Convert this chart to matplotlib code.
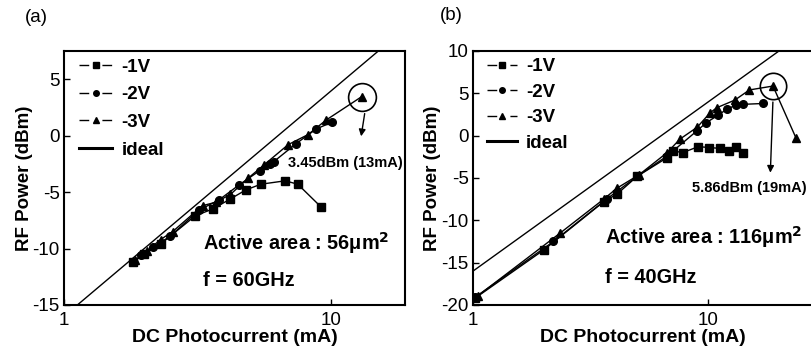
import numpy as np
import matplotlib
matplotlib.use("Agg")
import matplotlib.pyplot as plt
from matplotlib.lines import Line2D

plt.rcParams['font.family'] = ['Liberation Sans', 'DejaVu Sans']
plt.rcParams['axes.unicode_minus'] = False

# ---- panel (a), 56 um^2, 60 GHz ----
a_1v_ma = [1.81, 2.0, 2.3, 3.1, 3.6, 4.2, 4.8, 5.46, 6.73, 7.5, 9.15]
a_1v_dbm = [-11.2, -10.5, -9.6, -7.1, -6.5, -5.6, -4.8, -4.3, -4.0, -4.3, -6.3]
a_2v_ma = [1.95, 2.15, 2.5, 3.2, 3.8, 4.5, 5.4, 5.9, 6.1, 7.4, 8.8, 10.1]
a_2v_dbm = [-10.6, -9.9, -8.9, -6.6, -5.7, -4.4, -3.1, -2.5, -2.3, -0.7, 0.6, 1.2]
a_3v_ma = [1.85, 2.05, 2.3, 2.55, 3.3, 3.7, 4.2, 4.9, 5.6, 6.9, 8.2, 9.6, 13.0]
a_3v_dbm = [-11.0, -10.2, -9.2, -8.5, -6.2, -5.9, -5.2, -3.75, -2.6, -0.8, 0.1, 1.4, 3.45]

# ---- panel (b), 116 um^2, 40 GHz ----
b_1v_ma = [1.02, 2.0, 3.6, 4.1, 5.0, 6.7, 7.1, 7.8, 9.1, 10.1, 11.2, 12.3, 13.2, 14.1]
b_1v_dbm = [-19.2, -13.5, -7.8, -6.9, -4.8, -2.6, -1.8, -2.0, -1.3, -1.4, -1.5, -1.8, -1.3, -2.0]
b_2v_ma = [1.02, 2.2, 3.7, 5.0, 6.7, 9.0, 9.8, 11.0, 12.0, 13.1, 14.1, 17.2]
b_2v_dbm = [-19.1, -12.5, -7.5, -4.8, -2.4, 0.6, 1.5, 2.4, 3.1, 3.6, 3.7, 3.8]
b_3v_ma = [1.05, 2.35, 3.6, 4.1, 5.1, 6.7, 7.6, 9.0, 10.2, 10.9, 13.0, 15.0, 18.9, 23.7]
b_3v_dbm = [-18.9, -11.5, -7.5, -6.2, -4.6, -2.0, -0.4, 1.0, 2.7, 3.3, 4.2, 5.4, 5.86, -0.3]

# ideal: 50 ohm load, 100% modulation
ideal_ma = [1.0, 30.0]
ideal_dbm = [-16.0, 13.5]

legend_labels = ['-1V', '-2V', '-3V', 'ideal']

fig = plt.figure(figsize=(8.11, 3.5), dpi=100)
ax_a = fig.add_axes([0.0789, 0.1286, 0.4205, 0.7257])
ax_b = fig.add_axes([0.5832, 0.1286, 0.4194, 0.7257])

def draw_panel(ax, s1, s2, s3, xlim, ylim, yticks, leg_x, leg_y, leg_sp, hlen):
    ax.plot(ideal_ma, ideal_dbm, color='black', lw=1.0)
    ax.plot(s1[0], s1[1], color='black', lw=1.0, marker='s', ms=5.5)
    ax.plot(s2[0], s2[1], color='black', lw=1.0, marker='o', ms=5.5)
    ax.plot(s3[0], s3[1], color='black', lw=1.0, marker='^', ms=6)
    ax.set_xscale('log')
    ax.set_xlim(xlim)
    ax.set_ylim(ylim)
    ax.set_yticks(yticks)
    ax.set_xticks([1, 10])
    ax.set_xticklabels(['1', '10'])
    ax.minorticks_off()
    ax.tick_params(direction='in', length=4, width=1, labelsize=13.5)
    ax.tick_params(axis='x', pad=5)
    ax.tick_params(axis='y', pad=3)
    for sp in ax.spines.values():
        sp.set_linewidth(1.5)
    ax.set_xlabel('DC Photocurrent (mA)', fontsize=14, fontweight='bold', labelpad=0)
    ax.set_ylabel('RF Power (dBm)', fontsize=13.5, fontweight='bold', labelpad=0)

    dash = (0, (7, 9.5))
    handles = [Line2D([], [], color='black', lw=1.0, ls=dash, marker='s', ms=4),
               Line2D([], [], color='black', lw=1.0, ls=dash, marker='o', ms=4),
               Line2D([], [], color='black', lw=1.0, ls=dash, marker='^', ms=4.5),
               Line2D([], [], color='black', lw=2.2)]
    ax.legend(handles, legend_labels, loc='upper left', bbox_to_anchor=(leg_x, leg_y),
              frameon=False, prop={'weight': 'bold', 'size': 13.5}, handlelength=hlen,
              handletextpad=0.5, labelspacing=leg_sp, borderaxespad=0, borderpad=0)

draw_panel(ax_a, (a_1v_ma, a_1v_dbm), (a_2v_ma, a_2v_dbm), (a_3v_ma, a_3v_dbm),
           (1, 18.9), (-15, 7.5), [-15, -10, -5, 0, 5], 0.045, 0.97, 0.56, 1.75)
draw_panel(ax_b, (b_1v_ma, b_1v_dbm), (b_2v_ma, b_2v_dbm), (b_3v_ma, b_3v_dbm),
           (1, 28), (-20, 10), [-20, -15, -10, -5, 0, 5, 10], 0.04, 0.972, 0.45, 1.6)

# highlighted maximum points
ax_a.plot(a_3v_ma[-1], a_3v_dbm[-1], marker='o', ms=20, mfc='none', mec='black', mew=1.2)
ax_a.annotate('', xy=(12.9, -0.3), xytext=(13.4, 2.2),
              arrowprops=dict(arrowstyle='-|>', color='black', lw=1.0, mutation_scale=10))
ax_a.text(0.657, 0.559, '3.45dBm (13mA)', transform=ax_a.transAxes, fontsize=10.5,
          fontweight='bold', va='center')
ax_a.text(0.408, 0.244, r'Active area : 56$\mathregular{\mu}$m$^{\mathbf{2}}$', transform=ax_a.transAxes,
          fontsize=14.3, fontweight='bold', va='center')
ax_a.text(0.408, 0.098, 'f = 60GHz', transform=ax_a.transAxes, fontsize=14.3,
          fontweight='bold', va='center')

ax_b.plot(b_3v_ma[-2], b_3v_dbm[-2], marker='o', ms=19, mfc='none', mec='black', mew=1.2)
ax_b.annotate('', xy=(18.4, -4.7), xytext=(18.9, 4.3),
              arrowprops=dict(arrowstyle='-|>', color='black', lw=1.0, mutation_scale=10))
ax_b.text(0.644, 0.46, '5.86dBm (19mA)', transform=ax_b.transAxes, fontsize=10.5,
          fontweight='bold', va='center')
ax_b.text(0.388, 0.268, r'Active area : 116$\mathregular{\mu}$m$^{\mathbf{2}}$', transform=ax_b.transAxes,
          fontsize=14.3, fontweight='bold', va='center')
ax_b.text(0.388, 0.11, 'f = 40GHz', transform=ax_b.transAxes, fontsize=14.3,
          fontweight='bold', va='center')

fig.text(25 / 811, 1 - 17 / 350, '(a)', fontsize=13.5, va='center')
fig.text(440 / 811, 1 - 15 / 350, '(b)', fontsize=13.5, va='center')

fig.savefig('out.png', dpi=100)
